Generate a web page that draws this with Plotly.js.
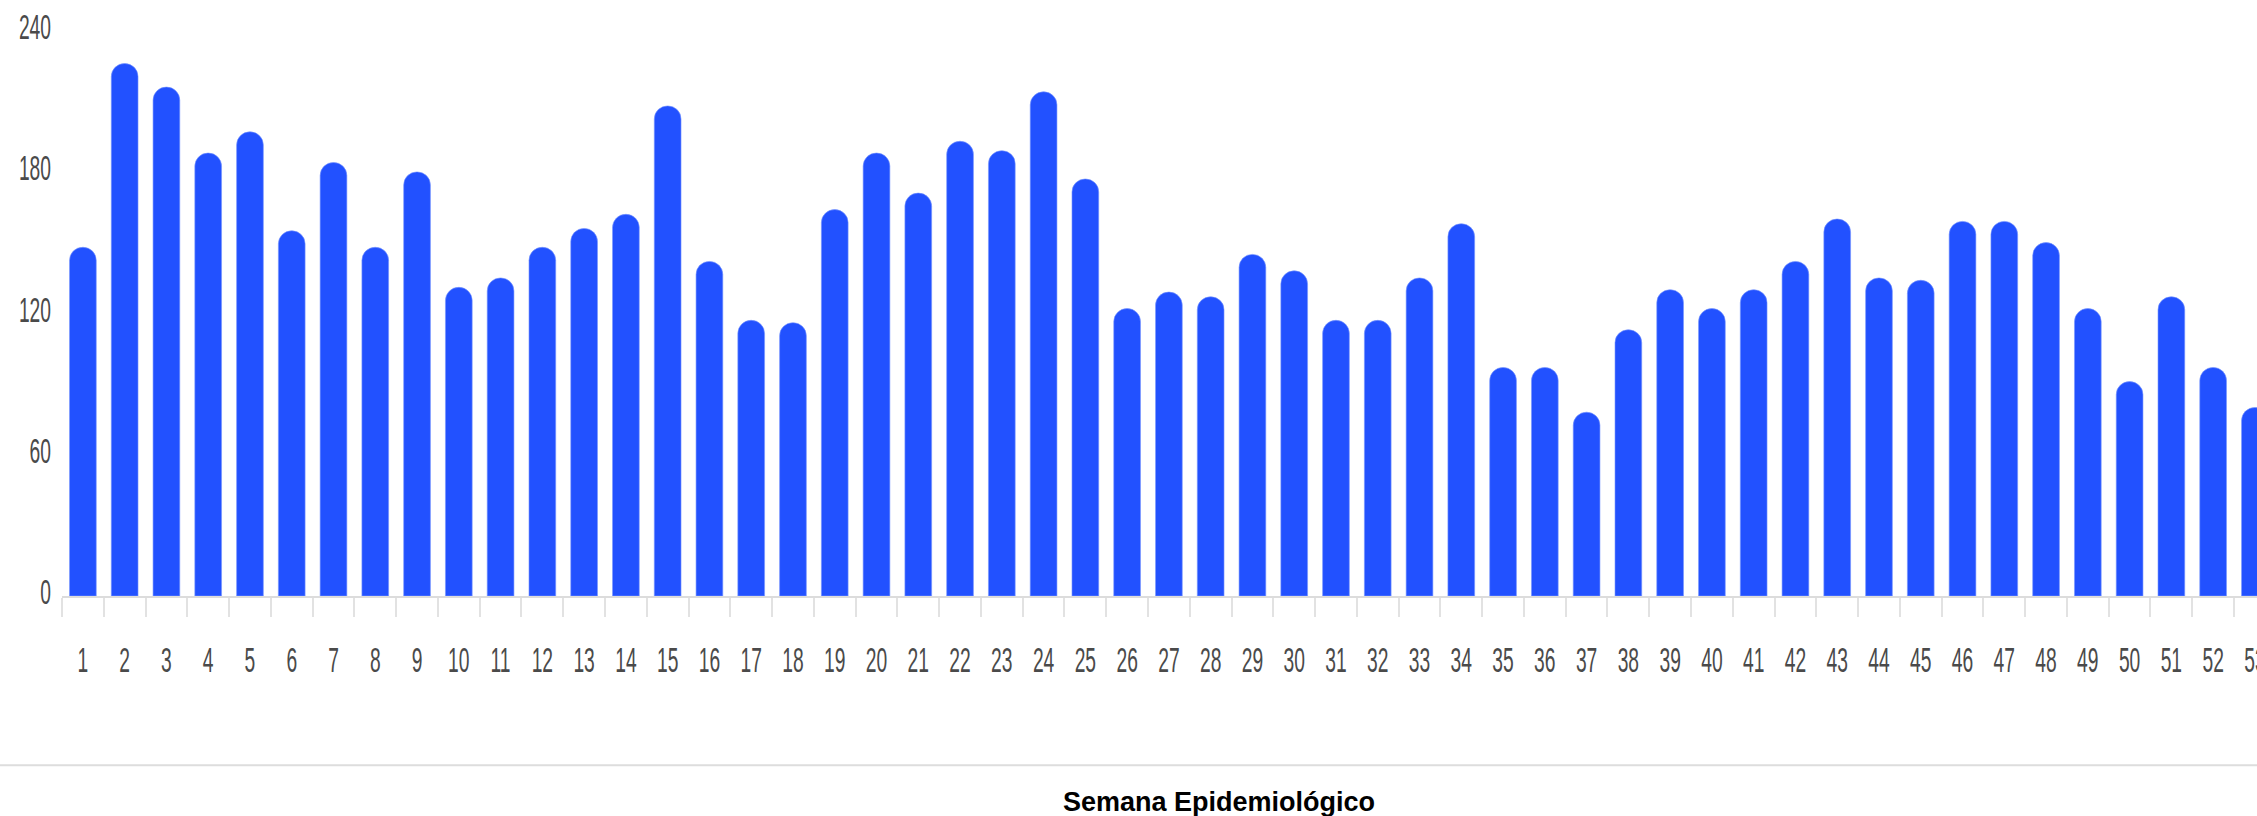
<!DOCTYPE html>
<html>
<head>
<meta charset="utf-8">
<script src="https://cdn.plot.ly/plotly-3.0.1.min.js"></script>
<style>
  html, body { margin: 0; padding: 0; background: #fff; }
  #chart { width: 2257px; height: 816px; }
</style>
</head>
<body>
<div id="chart"></div>
<script>
const semanas = ["1","2","3","4","5","6","7","8","9","10","11","12","13","14","15","16","17","18","19","20","21","22","23","24","25","26","27","28","29","30","31","32","33","34","35","36","37","38","39","40","41","42","43","44","45","46","47","48","49","50","51","52","53"];
const casos = [148,226,216,188,197,155,184,148,180,131,135,148,156,162,208,142,117,116,164,188,171,193,189,214,177,122,129,127,145,138,117,117,135,158,97,97,78,113,130,122,130,142,160,135,134,159,159,150,122,91,127,97,80];
const yTicks = [0,60,120,180,240];
const tituloEje = "Semana Epidemiológico";

const W = 2257, H = 816;
const mL = 62, mR = 0, mT = 6.5, mB = 220;
const plotW = W - mL - mR, plotH = H - mT - mB;
const pxToPaperY = py => (H - mB - py) / plotH;
const pxToPaperX = px => (px - mL) / plotW;

const tickFont = { family: "'Liberation Sans', Arial, sans-serif", size: 35, color: "#4a4a4a" };

const trace = {
  type: "bar",
  x: semanas,
  y: casos,
  marker: { color: "#2251ff", cornerradius: 13, line: { width: 1, color: "rgba(120,150,255,0.6)" } },
  hoverinfo: "skip"
};

const layout = {
  width: W, height: H,
  margin: { l: mL, r: mR, t: mT, b: mB, pad: 0 },
  paper_bgcolor: "#ffffff",
  plot_bgcolor: "#ffffff",
  bargap: 0.36,
  showlegend: false,
  xaxis: {
    type: "category",
    range: [-0.5, 52.05],
    tickmode: "linear",
    tick0: 0,
    dtick: 1,
    showgrid: false,
    zeroline: false,
    showline: true,
    linecolor: "#dcdcdc",
    linewidth: 2,
    ticks: "outside",
    tickson: "boundaries",
    ticklen: 19,
    tickwidth: 2,
    tickcolor: "#e2e2e2",
    tickangle: 0,
    tickfont: tickFont,
    ticklabelstandoff: 32,
    fixedrange: true
  },
  yaxis: {
    range: [0, 250],
    tickvals: yTicks,
    ticktext: yTicks.map(String),
    showgrid: false,
    zeroline: false,
    showline: false,
    ticks: "",
    tickfont: tickFont,
    ticklabelstandoff: 10,
    ticklabelshift: -4,
    fixedrange: true
  },
  shapes: [{
    type: "line", xref: "paper", yref: "paper",
    x0: pxToPaperX(0), x1: pxToPaperX(W),
    y0: pxToPaperY(765.5), y1: pxToPaperY(765.5),
    line: { color: "#dddddd", width: 2 }
  }],
  annotations: [{
    text: tituloEje,
    xref: "paper", yref: "paper",
    x: pxToPaperX(1219), y: pxToPaperY(802),
    xanchor: "center", yanchor: "middle",
    showarrow: false,
    font: { family: "'Liberation Sans', Arial, sans-serif", size: 27, color: "#000000", weight: "bold" }
  }]
};

// Narrow the tick-label glyphs horizontally, like the condensed labels of the reference
function condenseTicks(gd) {
  gd.querySelectorAll(".xtick text, .ytick text").forEach(t => {
    const len = t.getComputedTextLength();
    if (len > 0) {
      t.setAttribute("textLength", (len * 0.55).toFixed(2));
      t.setAttribute("lengthAdjust", "spacingAndGlyphs");
    }
  });
}

Plotly.newPlot("chart", [trace], layout, { staticPlot: true, displayModeBar: false })
  .then(gd => condenseTicks(gd));
</script>
</body>
</html>
